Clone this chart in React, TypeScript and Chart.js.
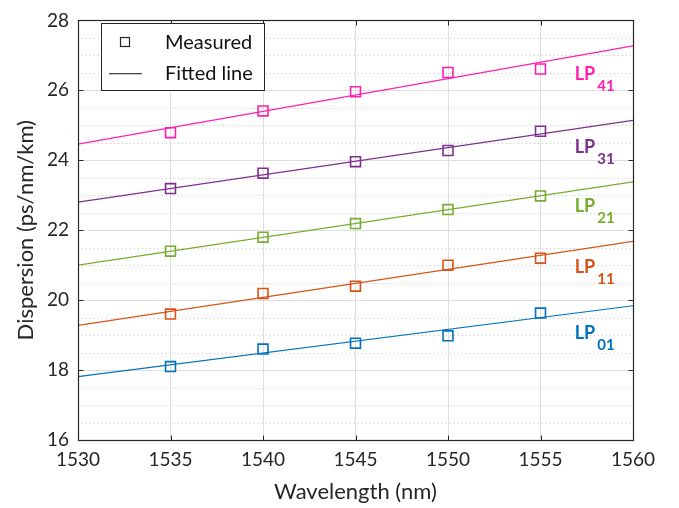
import React, { useEffect, useRef } from "react";
import { Chart, registerables } from "chart.js";

Chart.register(...registerables);

const wavelengths = [1535, 1540, 1545, 1550, 1555];
const lp01 = [18.1, 18.6, 18.77, 18.98, 19.63];
const lp11 = [19.6, 20.19, 20.4, 21.0, 21.2];
const lp21 = [21.4, 21.8, 22.19, 22.59, 22.98];
const lp31 = [23.19, 23.63, 23.96, 24.28, 24.83];
const lp41 = [24.79, 25.41, 25.96, 26.51, 26.61];

const fitEnds = [1530, 1560];
const fit01 = [17.81, 19.84];
const fit11 = [19.28, 21.68];
const fit21 = [21.0, 23.38];
const fit31 = [22.8, 25.14];
const fit41 = [24.46, 27.27];

const modeNames = ["01", "11", "21", "31", "41"];
const modeColors = ["#0072BD", "#D95319", "#77AC30", "#7E2F8E", "#FF1FAF"];
const labelX = 1556.85;
const labelY = [18.89, 20.77, 22.53, 24.22, 26.29];

const yTicks = [16, 18, 20, 22, 24, 26, 28];
const xTicks = [1530, 1535, 1540, 1545, 1550, 1555, 1560];

const FONT = "Lato";
const INK = "#262626";

const measured = [lp01, lp11, lp21, lp31, lp41];
const fits = [fit01, fit11, fit21, fit31, fit41];

const minorGridPlugin = {
  id: "minorGrid",
  beforeDatasetsDraw(chart: any) {
    const { ctx, chartArea } = chart;
    const y = chart.scales.y;
    ctx.save();
    ctx.strokeStyle = "#c4c4c4";
    ctx.lineWidth = 1;
    ctx.setLineDash([1, 3]);
    for (let v = 16.5; v < 28; v += 0.5) {
      if (Math.abs(v / 2 - Math.round(v / 2)) < 1e-6) continue;
      const py = Math.round(y.getPixelForValue(v)) + 0.5;
      ctx.beginPath();
      ctx.moveTo(chartArea.left, py);
      ctx.lineTo(chartArea.right, py);
      ctx.stroke();
    }
    ctx.restore();
  },
};

const framePlugin = {
  id: "frame",
  afterDatasetsDraw(chart: any) {
    const { ctx, chartArea } = chart;
    const xs = chart.scales.x;
    const ys = chart.scales.y;
    const l = Math.round(chartArea.left) + 0.5;
    const r = Math.round(chartArea.right) + 0.5;
    const t = Math.round(chartArea.top) + 0.5;
    const b = Math.round(chartArea.bottom) + 0.5;
    ctx.save();
    ctx.setLineDash([]);
    ctx.strokeStyle = INK;
    ctx.lineWidth = 1.2;
    ctx.strokeRect(l, t, r - l, b - t);
    ctx.lineWidth = 1;
    const tl = 5;
    xTicks.slice(1, -1).forEach((v) => {
      const px = Math.round(xs.getPixelForValue(v)) + 0.5;
      ctx.beginPath();
      ctx.moveTo(px, b);
      ctx.lineTo(px, b - tl);
      ctx.moveTo(px, t);
      ctx.lineTo(px, t + tl);
      ctx.stroke();
    });
    yTicks.slice(1, -1).forEach((v) => {
      const py = Math.round(ys.getPixelForValue(v)) + 0.5;
      ctx.beginPath();
      ctx.moveTo(l, py);
      ctx.lineTo(l + tl, py);
      ctx.moveTo(r, py);
      ctx.lineTo(r - tl, py);
      ctx.stroke();
    });

    // mode labels
    modeNames.forEach((name, i) => {
      const px = xs.getPixelForValue(labelX);
      const py = ys.getPixelForValue(labelY[i]);
      ctx.fillStyle = modeColors[i];
      ctx.textBaseline = "alphabetic";
      ctx.textAlign = "left";
      ctx.font = `bold 18px ${FONT}`;
      ctx.fillText("LP", px, py);
      const w = ctx.measureText("LP").width;
      ctx.font = `bold 15px ${FONT}`;
      ctx.fillText(name, px + w + 2, py + 11);
    });

    // legend
    const bx = 101.5, by = 23.5, bw = 163, bh = 67;
    ctx.fillStyle = "#ffffff";
    ctx.fillRect(bx, by, bw, bh);
    ctx.strokeStyle = INK;
    ctx.lineWidth = 1;
    ctx.strokeRect(bx, by, bw, bh);
    ctx.strokeStyle = INK;
    ctx.lineWidth = 1.2;
    ctx.strokeRect(120.5, 37.5, 9, 9);
    ctx.fillStyle = "#4a4a4a";
    ctx.fillRect(109, 73, 33, 1.3);
    ctx.fillStyle = "#111111";
    ctx.font = `20px ${FONT}`;
    ctx.textBaseline = "alphabetic";
    ctx.fillText("Measured", 165, 49);
    ctx.fillText("Fitted line", 165, 80);
    ctx.restore();
  },
};

export default function App() {
  const ref = useRef<HTMLCanvasElement | null>(null);
  useEffect(() => {
    if (!ref.current) return;
    const datasets: any[] = [];
    fits.forEach((f, i) => {
      datasets.push({
        type: "line",
        label: "Fitted LP" + modeNames[i],
        data: fitEnds.map((x, j) => ({ x, y: f[j] })),
        borderColor: modeColors[i],
        borderWidth: 1.2,
        pointRadius: 0,
        showLine: true,
        fill: false,
      });
    });
    measured.forEach((m, i) => {
      datasets.push({
        type: "scatter",
        label: "LP" + modeNames[i],
        data: wavelengths.map((x, j) => ({ x, y: m[j] })),
        borderColor: modeColors[i],
        backgroundColor: "rgba(0,0,0,0)",
        pointStyle: "rect",
        pointRadius: 7,
        pointBorderWidth: 1.6,
        showLine: false,
      });
    });
    const chart = new Chart(ref.current, {
      type: "scatter",
      data: { datasets },
      plugins: [minorGridPlugin, framePlugin],
      options: {
        responsive: false,
        animation: false,
        layout: { padding: { left: 0, top: 12, right: 46, bottom: 0 } },
        plugins: { legend: { display: false }, tooltip: { enabled: false } },
        scales: {
          x: {
            type: "linear",
            min: 1530,
            max: 1560,
            afterBuildTicks: (s: any) => {
              s.ticks = xTicks.map((v) => ({ value: v }));
            },
            afterFit: (s: any) => {
              s.height = 68;
            },
            ticks: {
              color: INK,
              font: { family: FONT, size: 19 },
              padding: 8,
              callback: (v: any) => String(v),
            },
            grid: { color: "#dedede", lineWidth: 1, drawTicks: false },
            border: { display: false },
            title: {
              display: true,
              text: "Wavelength (nm)",
              color: INK,
              font: { family: FONT, size: 22 },
              padding: { top: 0, bottom: 3 },
            },
          },
          y: {
            type: "linear",
            min: 16,
            max: 28,
            afterBuildTicks: (s: any) => {
              s.ticks = yTicks.map((v) => ({ value: v }));
            },
            afterFit: (s: any) => {
              s.width = 78;
            },
            ticks: {
              color: INK,
              font: { family: FONT, size: 19 },
              padding: 9,
              callback: (v: any) => String(v),
            },
            grid: { color: "#dedede", lineWidth: 1, drawTicks: false },
            border: { display: false },
            title: {
              display: true,
              text: "Dispersion (ps/nm/km)",
              color: INK,
              font: { family: FONT, size: 22 },
              padding: { top: 13, bottom: 0 },
            },
          },
        },
      },
    });
    return () => chart.destroy();
  }, []);
  return (
    <div style={{ position: "fixed", left: 0, top: 0, width: 679, height: 508, background: "#fff" }}>
      <canvas ref={ref} width={679} height={508} style={{ display: "block" }} />
    </div>
  );
}
